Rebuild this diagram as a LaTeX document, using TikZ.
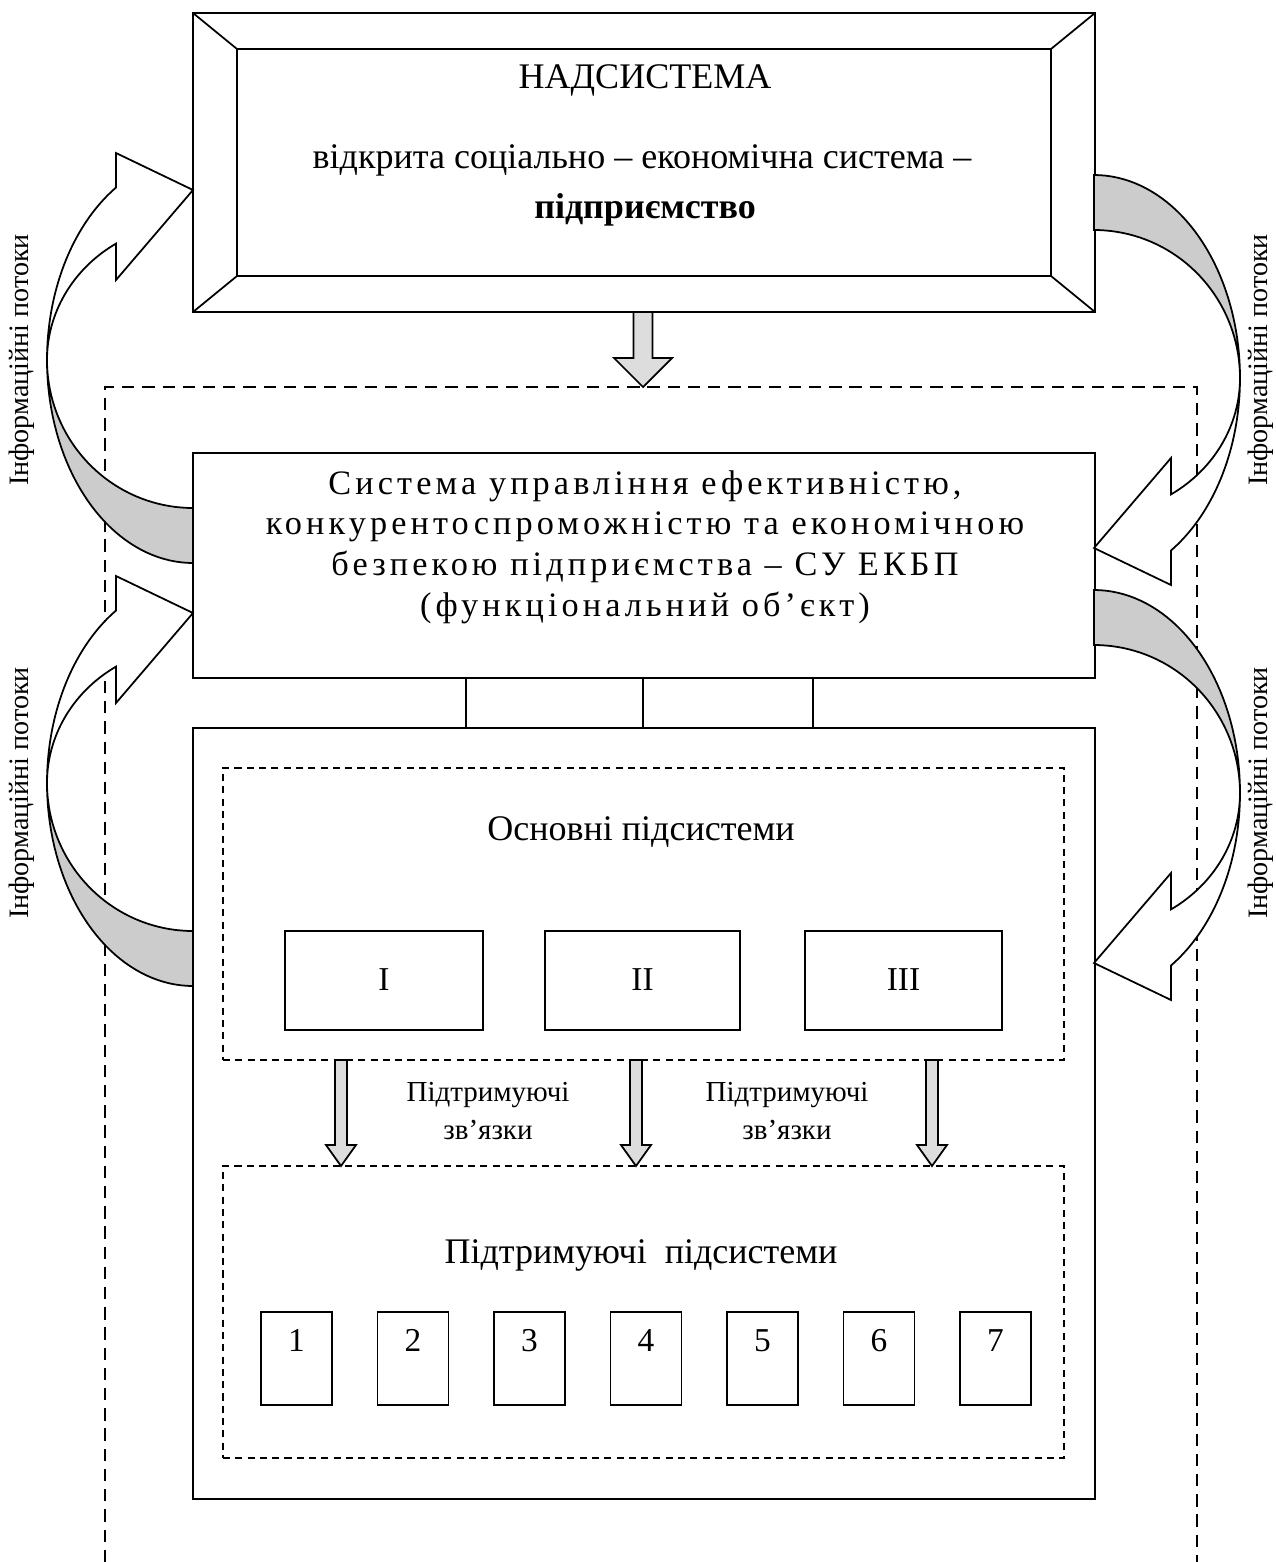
\documentclass[tikz,border=0pt]{standalone}
\usepackage{fontspec}
\usetikzlibrary{calc}
\setmainfont{Liberation Serif}
\newfontfamily\spacedfont[LetterSpace=12]{Liberation Serif}
\begin{document}
\begin{tikzpicture}[x=0.02cm, y=-0.02cm,
  box/.style={draw, line width=1pt, inner sep=0pt, outer sep=0pt, anchor=north west},
  sz/.style 2 args={minimum width=#1*0.02cm, minimum height=#2*0.02cm},
  bigdash/.style={line width=1pt, dash pattern=on 7pt off 4.5pt},
  smalldash/.style={line width=1pt, dash pattern=on 4pt off 3pt},
  solid line/.style={line width=1pt},
  bigtxt/.style={inner sep=0pt, font=\fontsize{20.5}{24}\selectfont},
  numtxt/.style={inner sep=0pt, text height=1.4ex, text depth=0pt, font=\fontsize{19}{23}\selectfont},
  midtxt/.style={inner sep=0pt, font=\spacedfont\fontsize{19.5}{24}\selectfont},
  smalltxt/.style={inner sep=0pt, font=\fontsize{16.5}{20}\selectfont, align=center},
  sidetxt/.style={inner sep=0pt, rotate=90, font=\fontsize{16}{20}\selectfont},
  fatarrow/.style={draw, line width=1pt, fill=gray!27, line join=miter}
]
\useasboundingbox (0,0) rectangle (1275,1562);

% outer dashed system boundary (open at the bottom)
\coordinate (dl) at (105,1562);
\coordinate (dtl) at (105,387);
\coordinate (dtr) at (1197,387);
\coordinate (dr) at (1197,1562);
\draw[bigdash] (dl) -- (dtl) -- (dtr) -- (dr);

% ---------- top box (НАДСИСТЕМА) ----------
\node[box, sz={902}{299}] (top) at (193,13) {};
\node[box, sz={814}{227}] (topin) at (237,49) {};
\draw[solid line] (top.north west) -- (topin.north west);
\draw[solid line] (top.north east) -- (topin.north east);
\draw[solid line] (top.south west) -- (topin.south west);
\draw[solid line] (top.south east) -- (topin.south east);
\node[bigtxt] (t1) at (645,80) {НАДСИСТЕМА};
\node[bigtxt] (t2) at (642,160) {відкрита соціально – економічна система –};
\node[bigtxt] (t3) at (645,210) {\textbf{підприємство}};

% arrow from top box into the system
\coordinate (dA) at (643,387);
\path[fatarrow] (top.south -| 633.5,0) -- (633.5,358) -- (614,358) -- (dA) -- (672,358) -- (652.5,358) -- (top.south -| 652.5,0) -- cycle;

% ---------- middle box ----------
\node[box, sz={902}{225}] (sys) at (193,453) {};
\node[midtxt] (s1) at (645,486) {Система управління ефективністю,};
\node[midtxt] (s2) at (645,527) {конкурентоспроможністю та економічною};
\node[midtxt] (s3) at (645,567) {безпекою підприємства – СУ ЕКБП};
\node[midtxt] (s4) at (645,608) {(функціональний об’єкт)};

% ---------- lower box ----------
\node[box, sz={902}{771}] (low) at (193,728) {};
\foreach \cx in {466,643,813}
  \draw[solid line] (sys.south -| \cx,0) -- (low.north -| \cx,0);

% main subsystems
\node[box, smalldash, sz={841}{292}] (main) at (223,768) {};
\node[bigtxt] (mt) at (641,832) {Основні підсистеми};
\node[box, sz={198}{99}] (b1) at (285,931) {};
\node[box, sz={195}{99}] (b2) at (545,931) {};
\node[box, sz={197}{99}] (b3) at (805,931) {};
\node[numtxt] at ($(b1.center)+(0,4)$) {I};
\node[numtxt] at ($(b2.center)+(0,4)$) {II};
\node[numtxt] at ($(b3.center)+(0,4)$) {III};

% supporting subsystems
\node[box, smalldash, sz={841}{292}] (supp) at (223,1166) {};
\node[bigtxt] (st) at (641,1255) {Підтримуючі\ \ підсистеми};
\foreach \i in {1,...,7}{
  \pgfmathsetmacro{\bx}{261+116.5*(\i-1)}
  \node[box, sz={71}{93}] (n\i) at (\bx,1312) {};
  \node[numtxt] at ($(n\i.north)+(0,34)$) {\i};
}

% supporting links arrows
\foreach \ax in {341,636,932}{
  \path[fatarrow] (main.south -| \ax-6,0) -- (\ax-6,1145) -- (\ax-15,1145) -- (supp.north -| \ax,0) -- (\ax+15,1145) -- (\ax+6,1145) -- (main.south -| \ax+6,0) -- cycle;
}
\node[smalltxt] (l1) at (488,1111) {Підтримуючі\\[2pt]зв’язки};
\node[smalltxt] (l2) at (787,1111) {Підтримуючі\\[2pt]зв’язки};

% ---------- curved information-flow arrows ----------
\newcommand\curvedarr{%
  \path[fill=gray!40, draw, line width=1pt]
    plot[domain=90:180, samples=40] ({146*cos(\x)}, {203*sin(\x)})
    -- plot[domain=180:90, samples=40] ({146*cos(\x)}, {148*sin(\x)}) -- cycle;
  \path[fill=white, draw, line width=1pt, line join=miter]
    plot[domain=180:238.2, samples=40] ({146*cos(\x)}, {203*sin(\x)})
    -- (-77,-207) -- (0,-170) -- (-77,-80)
    -- plot[domain=238.2:180, samples=40] ({146*cos(\x)}, {137*sin(\x)}) -- cycle;
}
\begin{scope}[shift={(193,360)}] \curvedarr \end{scope}
\begin{scope}[shift={(193,783)}] \curvedarr \end{scope}
\begin{scope}[shift={(1094,378)}, xscale=-1, yscale=-1] \curvedarr \end{scope}
\begin{scope}[shift={(1094,793)}, xscale=-1, yscale=-1] \curvedarr \end{scope}

\node[sidetxt] (i1) at (22,360) {Інформаційні потоки};
\node[sidetxt] (i2) at (22,793) {Інформаційні потоки};
\node[sidetxt] (i3) at (1261,360) {Інформаційні потоки};
\node[sidetxt] (i4) at (1261,793) {Інформаційні потоки};
\end{tikzpicture}
\end{document}
